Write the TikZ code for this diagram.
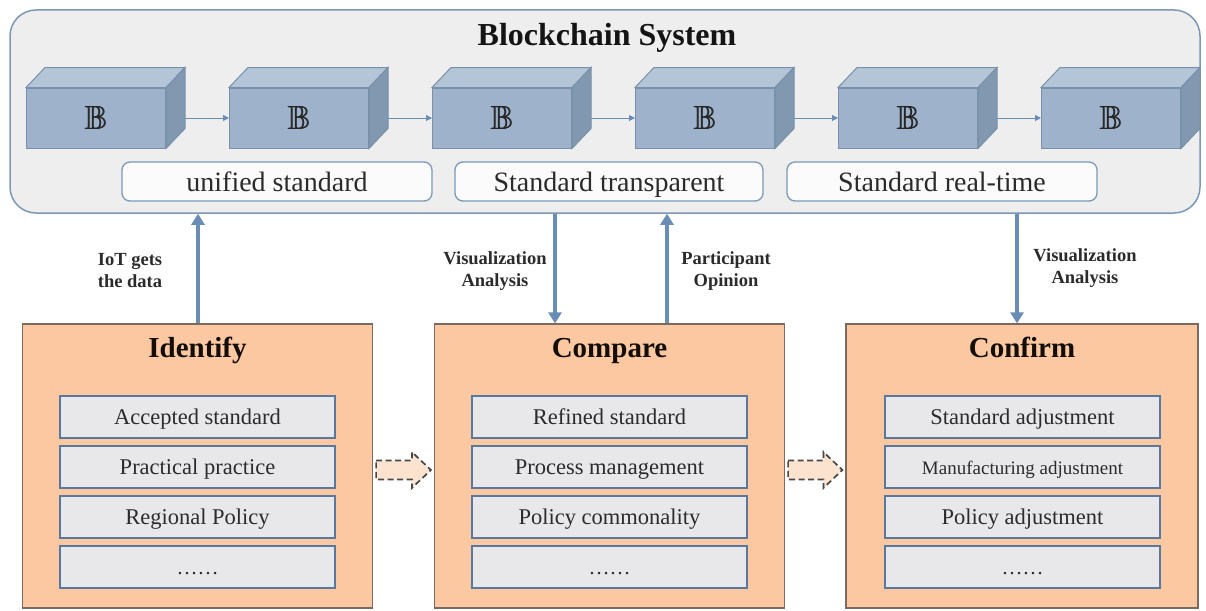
\documentclass[tikz,border=0pt]{standalone}
\usepackage{amssymb}
\usepackage{graphicx}
\usepackage{fontspec}
\setmainfont{Liberation Serif}
\usetikzlibrary{arrows.meta,calc}

\definecolor{sysfill}{HTML}{EEEEEE}
\definecolor{sysline}{HTML}{7C98B6}
\definecolor{cubefront}{HTML}{9EB3CB}
\definecolor{cubetop}{HTML}{B4C5D7}
\definecolor{cubeside}{HTML}{8198B0}
\definecolor{cubeline}{HTML}{7890AA}
\definecolor{flowblue}{HTML}{6A8DB5}
\definecolor{peach}{HTML}{FBC8A1}
\definecolor{peachline}{HTML}{7A6A60}
\definecolor{itemfill}{HTML}{E8E8EB}
\definecolor{itemline}{HTML}{5878A0}
\definecolor{dashfill}{HTML}{FBE3D0}
\definecolor{ink}{HTML}{2B2B2B}

% heavier double-struck letter for the blocks
\newcommand{\blockmark}{\scalebox{1.4}{\makebox[0pt][l]{$\mathbb{B}$}\kern0.5pt$\mathbb{B}$}}

\tikzset{
  front/.style={draw=cubeline, line width=1pt, fill=cubefront,
    minimum width=139pt, minimum height=60pt, inner sep=0pt, text=black!85,
    font=\fontsize{24}{24}\selectfont},
  tagbox/.style={draw=sysline, line width=1.3pt, fill=white!97!gray,
    rounded corners=8pt, minimum width=310pt, minimum height=39pt,
    inner sep=0pt, text height=22pt, text depth=2pt, text=ink,
    font=\fontsize{28}{28}\selectfont},
  panel/.style={draw=peachline, line width=1.2pt, fill=peach,
    minimum width=350pt, minimum height=284pt, inner sep=0pt},
  paneltitle/.style={font=\bfseries\fontsize{29}{29}\selectfont, inner sep=0pt,
    text height=20.3pt, text depth=6.3pt, text=black!90!brown},
  item/.style={draw=itemline, line width=1.8pt, fill=itemfill,
    minimum width=275pt, minimum height=42pt, inner sep=0pt,
    text height=17pt, text depth=2pt, text=ink,
    font=\fontsize{22.5}{22.5}\selectfont},
  chainarrow/.style={draw=flowblue, line width=1pt, -{Triangle[length=6pt,width=6pt]}},
  flow/.style={draw=flowblue, line width=3.5pt, -{Triangle[length=11pt,width=13pt]}},
  flowlabel/.style={font=\bfseries\fontsize{18.5}{22}\selectfont, align=center,
    inner sep=0pt, text=ink},
  dasharrow/.style={draw=black!72, line width=1.7pt, dash pattern=on 6pt off 3.5pt,
    fill=dashfill, line join=miter},
}

\newcommand{\cube}[2]{%
  \node[front] (#1) at (#2,118) {\blockmark};
  \fill[cubetop, draw=cubeline, line width=1pt]
    (#1.north west) -- ([shift={(19,-20)}]#1.north west)
    -- ([shift={(19,-20)}]#1.north east) -- (#1.north east) -- cycle;
  \fill[cubeside, draw=cubeline, line width=1pt]
    (#1.north east) -- ([shift={(19,-20)}]#1.north east)
    -- ([shift={(19,-20)}]#1.south east) -- (#1.south east) -- cycle;
}

\begin{document}
\begin{tikzpicture}[x=1pt,y=-1pt]
\useasboundingbox (0,0) rectangle (1206,610);

% blockchain container
\node[draw=sysline, line width=1.5pt, fill=sysfill, rounded corners=26pt,
  minimum width=1190pt, minimum height=203pt, inner sep=0pt] (sys) at (605,111.5) {};
\node[font=\bfseries\fontsize{32}{32}\selectfont, inner sep=0pt, text=black!92] (title) at (607,38) {Blockchain System};

% chain of blocks
\cube{b1}{96}
\cube{b2}{299}
\cube{b3}{502}
\cube{b4}{705}
\cube{b5}{908}
\cube{b6}{1111}
\foreach \a/\b in {b1/b2,b2/b3,b3/b4,b4/b5,b5/b6}
  \draw[chainarrow] ([xshift=19pt]\a.east) -- (\b.west);

% properties of the standard
\node[tagbox] (t1) at (277,181.5) {unified standard};
\node[tagbox, minimum width=308pt] (t2) at (609,181.5) {Standard transparent};
\node[tagbox] (t3) at (942,181.5) {Standard real-time};

% stages
\node[panel] (idf) at (197.5,466) {};
\node[panel] (cmp) at (609.5,466) {};
\node[panel, minimum width=352pt] (cnf) at (1022,466) {};

\node[paneltitle] (idft) at (197.5,350) {Identify};
\node[paneltitle] (cmpt) at (609.5,350) {Compare};
\node[paneltitle] (cnft) at (1022,350) {Confirm};

\node[item] (i1) at (197.5,417) {Accepted standard};
\node[item] (i2) at (197.5,467) {Practical practice};
\node[item] (i3) at (197.5,517) {Regional Policy};
\node[item, font=\fontsize{21}{21}\selectfont] (i4) at (197.5,567) {……};

\node[item] (c1) at (609.5,417) {Refined standard};
\node[item] (c2) at (609.5,467) {Process management};
\node[item] (c3) at (609.5,517) {Policy commonality};
\node[item, font=\fontsize{21}{21}\selectfont] (c4) at (609.5,567) {……};

\node[item] (f1) at (1022.5,417) {Standard adjustment};
\node[item, font=\fontsize{19}{19}\selectfont] (f2) at (1022.5,467) {Manufacturing adjustment};
\node[item] (f3) at (1022.5,517) {Policy adjustment};
\node[item, font=\fontsize{21}{21}\selectfont] (f4) at (1022.5,567) {……};

% data flows between the chain and the stages
\coordinate (xa) at (198,0);
\coordinate (xb) at (555,0);
\coordinate (xc) at (667,0);
\coordinate (xd) at (1017,0);
\draw[flow] (idf.north -| xa) -- (sys.south -| xa);
\draw[flow] (sys.south -| xb) -- (cmp.north -| xb);
\draw[flow] (cmp.north -| xc) -- (sys.south -| xc);
\draw[flow] (sys.south -| xd) -- (cnf.north -| xd);

\node[flowlabel] (la) at (130,271) {IoT gets\\the data};
\node[flowlabel] (lb) at (495,271) {Visualization\\Analysis};
\node[flowlabel] (lc) at (726,271) {Participant\\Opinion};
\node[flowlabel] (ld) at (1085,268) {Visualization\\Analysis};

% hand-over between stages
\foreach \p/\q in {idf/cmp,cmp/cnf}{
  \coordinate (s) at ([shift={(3,4)}]\p.east);
  \coordinate (t) at ([shift={(-3,4)}]\q.west);
  \draw[dasharrow] ($(s)+(0,-9.5)$) -- ($(t)+(-19,-9.5)$) -- ($(t)+(-19,-18)$)
    -- (t) -- ($(t)+(-19,18)$) -- ($(t)+(-19,9.5)$) -- ($(s)+(0,9.5)$) -- cycle;
}
\end{tikzpicture}
\end{document}
